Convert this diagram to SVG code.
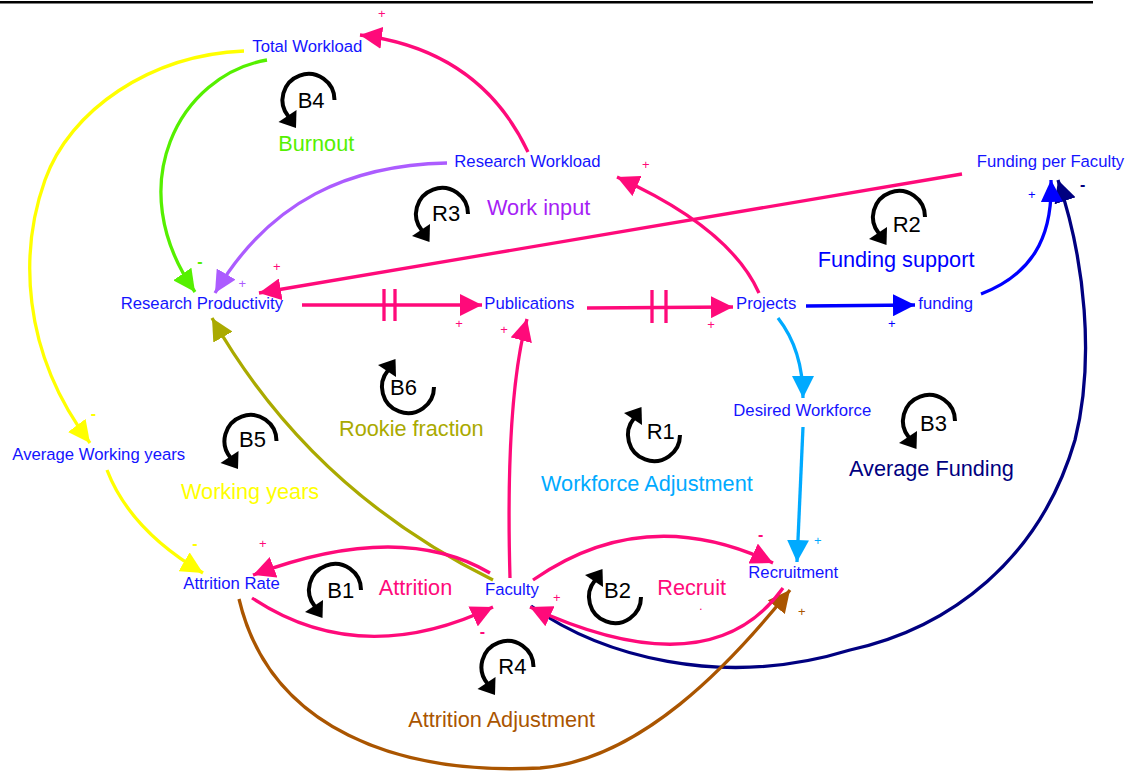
<svg xmlns="http://www.w3.org/2000/svg" xmlns:xlink="http://www.w3.org/1999/xlink" width="1133" height="772" viewBox="0 0 1133 772">
<style>
text{font-family:"Liberation Sans",Arial,Helvetica,sans-serif}
.node{font-size:16.7px;fill:#1414ff}
.lbl{font-size:21.7px}
.id{font-size:22px;fill:#000}
.sg{font-size:13px;text-anchor:middle}
.mn{font-size:16px;font-weight:bold}
.c{fill:none;stroke-width:3.3}
.pk{stroke:#ff0a7a}.gr{stroke:#55f000}.ye{stroke:#ffff00}.pu{stroke:#ac5cff}.ol{stroke:#aaaa00}
.lb{stroke:#00aaff}.bl{stroke:#0000ff}.nv{stroke:#000080}.br{stroke:#aa5500}
</style>
<defs>
<marker id="mPk" markerUnits="userSpaceOnUse" markerWidth="22" markerHeight="22" refX="22" refY="11" viewBox="0 0 22 22" orient="auto"><path d="M0,0 L22,11 L0,22 Z" fill="#ff0a7a"/></marker>
<marker id="mGr" markerUnits="userSpaceOnUse" markerWidth="22" markerHeight="22" refX="22" refY="11" viewBox="0 0 22 22" orient="auto"><path d="M0,0 L22,11 L0,22 Z" fill="#55f000"/></marker>
<marker id="mYe" markerUnits="userSpaceOnUse" markerWidth="22" markerHeight="22" refX="22" refY="11" viewBox="0 0 22 22" orient="auto"><path d="M0,0 L22,11 L0,22 Z" fill="#ffff00"/></marker>
<marker id="mPu" markerUnits="userSpaceOnUse" markerWidth="22" markerHeight="22" refX="22" refY="11" viewBox="0 0 22 22" orient="auto"><path d="M0,0 L22,11 L0,22 Z" fill="#ac5cff"/></marker>
<marker id="mOl" markerUnits="userSpaceOnUse" markerWidth="22" markerHeight="22" refX="22" refY="11" viewBox="0 0 22 22" orient="auto"><path d="M0,0 L22,11 L0,22 Z" fill="#aaaa00"/></marker>
<marker id="mLb" markerUnits="userSpaceOnUse" markerWidth="22" markerHeight="22" refX="22" refY="11" viewBox="0 0 22 22" orient="auto"><path d="M0,0 L22,11 L0,22 Z" fill="#00aaff"/></marker>
<marker id="mBl" markerUnits="userSpaceOnUse" markerWidth="22" markerHeight="22" refX="22" refY="11" viewBox="0 0 22 22" orient="auto"><path d="M0,0 L22,11 L0,22 Z" fill="#0000ff"/></marker>
<marker id="mNv" markerUnits="userSpaceOnUse" markerWidth="22" markerHeight="22" refX="22" refY="11" viewBox="0 0 22 22" orient="auto"><path d="M0,0 L22,11 L0,22 Z" fill="#000080"/></marker>
<marker id="mBr" markerUnits="userSpaceOnUse" markerWidth="22" markerHeight="22" refX="22" refY="11" viewBox="0 0 22 22" orient="auto"><path d="M0,0 L22,11 L0,22 Z" fill="#aa5500"/></marker>
<g id="loopA">
<path d="M26,0 A26,26 0 1 0 -19.9,16.7" fill="none" stroke="#000" stroke-width="4"/>
<polygon points="-30,22 -12,10 -12.5,28" fill="#000"/>
</g>
</defs>

<rect x="0" y="1" width="1093" height="2.5" fill="#000"/>

<g id="connectors">
<path class="c nv" d="M531,606 C600,655 720,690 850,650 C950,628 1040,560 1075,440 C1095,360 1085,260 1058,180" marker-end="url(#mNv)"/>
<path class="c br" d="M239,599 C270,730 400,775 540,768 C640,760 730,665 790,590" marker-end="url(#mBr)"/>
<path class="c pk" d="M528,152 Q480,50 360,35" marker-end="url(#mPk)"/>
<path class="c gr" d="M267,60 C180,75 120,185 195,292" marker-end="url(#mGr)"/>
<path class="c ye" d="M244,51 C150,55 70,110 45,180 C20,250 20,350 90,443" marker-end="url(#mYe)"/>
<path class="c ye" d="M107,470 Q130,530 203,573" marker-end="url(#mYe)"/>
<path class="c pu" d="M447,163 C350,165 270,200 215,293" marker-end="url(#mPu)"/>
<path class="c pk" d="M759,293 Q730,228 617,177" marker-end="url(#mPk)"/>
<path class="c pk" d="M962,174 L259,293" marker-end="url(#mPk)"/>
<path class="c pk" d="M302,305 L482,305" marker-end="url(#mPk)"/>
<path class="c pk" d="M384,289 V321 M395,289 V321"/>
<path class="c pk" d="M587,308 L733,307" marker-end="url(#mPk)"/>
<path class="c pk" d="M652,290 V323 M666,290 V323"/>
<path class="c bl" d="M806,306 L915,305" marker-end="url(#mBl)"/>
<path class="c bl" d="M981,294 C1030,275 1053,240 1051,180" marker-end="url(#mBl)"/>
<path class="c lb" d="M778,318 Q803,350 803,398" marker-end="url(#mLb)"/>
<path class="c lb" d="M803,427 L797,562" marker-end="url(#mLb)"/>
<path class="c ol" d="M493,580 Q310,490 212,318" marker-end="url(#mOl)"/>
<path class="c pk" d="M510,578 Q505,400 527,319" marker-end="url(#mPk)"/>
<path class="c pk" d="M533,580 Q645,502 773,563" marker-end="url(#mPk)"/>
<path class="c pk" d="M783,588 Q710,690 530,607" marker-end="url(#mPk)"/>
<path class="c pk" d="M490,573 Q400,520 253,575" marker-end="url(#mPk)"/>
<path class="c pk" d="M252,598 Q360,670 493,607" marker-end="url(#mPk)"/>
</g>

<g id="polarities">
<text class="sg" x="381.7" y="17.6" fill="#ff0a7a">+</text>
<text class="sg" x="645.7" y="169.3" fill="#ff0a7a">+</text>
<text class="sg mn" x="200" y="266.5" fill="#55f000">-</text>
<text class="sg" x="242.3" y="287.6" fill="#ac5cff">+</text>
<text class="sg" x="276.7" y="271" fill="#ff0a7a">+</text>
<text class="sg" x="459" y="327.6" fill="#ff0a7a">+</text>
<text class="sg" x="504" y="333.6" fill="#ff0a7a">+</text>
<text class="sg" x="711" y="329.3" fill="#ff0a7a">+</text>
<text class="sg" x="891.7" y="327.6" fill="#0000ff">+</text>
<text class="sg" x="1031.7" y="199.3" fill="#0000ff">+</text>
<text class="sg mn" x="1082.7" y="190" fill="#000080">-</text>
<text class="sg mn" x="93.3" y="419" fill="#ffff00">-</text>
<text class="sg mn" x="195" y="549" fill="#ffff00">-</text>
<text class="sg" x="262.7" y="547.6" fill="#ff0a7a">+</text>
<text class="sg mn" x="482.3" y="636.5" fill="#ff0a7a">-</text>
<text class="sg" x="556.7" y="601.6" fill="#ff0a7a">+</text>
<text class="sg mn" x="760.7" y="540" fill="#ff0a7a">-</text>
<text class="sg" x="817.7" y="545" fill="#00aaff">+</text>
<text class="sg" x="801.7" y="616" fill="#aa5500">+</text>
<text class="sg" x="700.7" y="610" fill="#ff0a7a">.</text>
</g>

<g id="node-total-workload"><text class="node" x="252.3" y="51.5">Total Workload</text></g>
<g id="node-research-workload"><text class="node" x="454.3" y="166.7">Research Workload</text></g>
<g id="node-funding-per-faculty"><text class="node" x="976.7" y="166.7">Funding per Faculty</text></g>
<g id="node-research-productivity"><text class="node" x="120.7" y="309">Research Productivity</text></g>
<g id="node-publications"><text class="node" x="484.3" y="309.3">Publications</text></g>
<g id="node-projects"><text class="node" x="736" y="309.3">Projects</text></g>
<g id="node-funding"><text class="node" x="918.3" y="309">funding</text></g>
<g id="node-desired-workforce"><text class="node" x="733.3" y="416">Desired Workforce</text></g>
<g id="node-average-working-years"><text class="node" x="12.3" y="460">Average Working years</text></g>
<g id="node-attrition-rate"><text class="node" x="183.3" y="589.3">Attrition Rate</text></g>
<g id="node-faculty"><text class="node" x="485" y="595">Faculty</text></g>
<g id="node-recruitment"><text class="node" x="748.3" y="578.3">Recruitment</text></g>

<g id="loop-B4"><use xlink:href="#loopA" href="#loopA" transform="translate(308.5,100)"/><text class="id" x="297.7" y="108.3">B4</text><text class="lbl" x="278.3" y="150.7" fill="#55f000">Burnout</text></g>
<g id="loop-R3"><use xlink:href="#loopA" href="#loopA" transform="translate(442,214)"/><text class="id" x="432" y="221">R3</text><text class="lbl" x="487" y="215" fill="#a61ef5">Work input</text></g>
<g id="loop-R2"><use xlink:href="#loopA" href="#loopA" transform="translate(899,217)"/><text class="id" x="892.7" y="231.7">R2</text><text class="lbl" x="817.7" y="267.3" fill="#0000ff">Funding support</text></g>
<g id="loop-B6"><use xlink:href="#loopA" href="#loopA" transform="translate(408,387) scale(1,-1)"/><text class="id" x="390" y="395">B6</text><text class="lbl" x="339" y="436" fill="#aaaa00">Rookie fraction</text></g>
<g id="loop-R1"><use xlink:href="#loopA" href="#loopA" transform="translate(654,435) scale(1,-1)"/><text class="id" x="646.7" y="439">R1</text><text class="lbl" x="541" y="490.7" fill="#00aaff">Workforce Adjustment</text></g>
<g id="loop-B3"><use xlink:href="#loopA" href="#loopA" transform="translate(929,421)"/><text class="id" x="920" y="430.7">B3</text><text class="lbl" x="849" y="476" fill="#000080">Average Funding</text></g>
<g id="loop-B5"><use xlink:href="#loopA" href="#loopA" transform="translate(250.5,441)"/><text class="id" x="239" y="446.7">B5</text><text class="lbl" x="181" y="498.5" fill="#ffff00">Working years</text></g>
<g id="loop-B1"><use xlink:href="#loopA" href="#loopA" transform="translate(335,590)"/><text class="id" x="327.3" y="598.3">B1</text><text class="lbl" x="378.7" y="595" fill="#ff0a7a">Attrition</text></g>
<g id="loop-R4"><use xlink:href="#loopA" href="#loopA" transform="translate(507.5,667)"/><text class="id" x="498.3" y="674.3">R4</text><text class="lbl" x="408.3" y="726.7" fill="#aa5500">Attrition Adjustment</text></g>
<g id="loop-B2"><use xlink:href="#loopA" href="#loopA" transform="translate(615,597) scale(1,-1)"/><text class="id" x="604" y="598.3">B2</text><text class="lbl" x="657.3" y="595" fill="#ff0a7a">Recruit</text></g>
</svg>
